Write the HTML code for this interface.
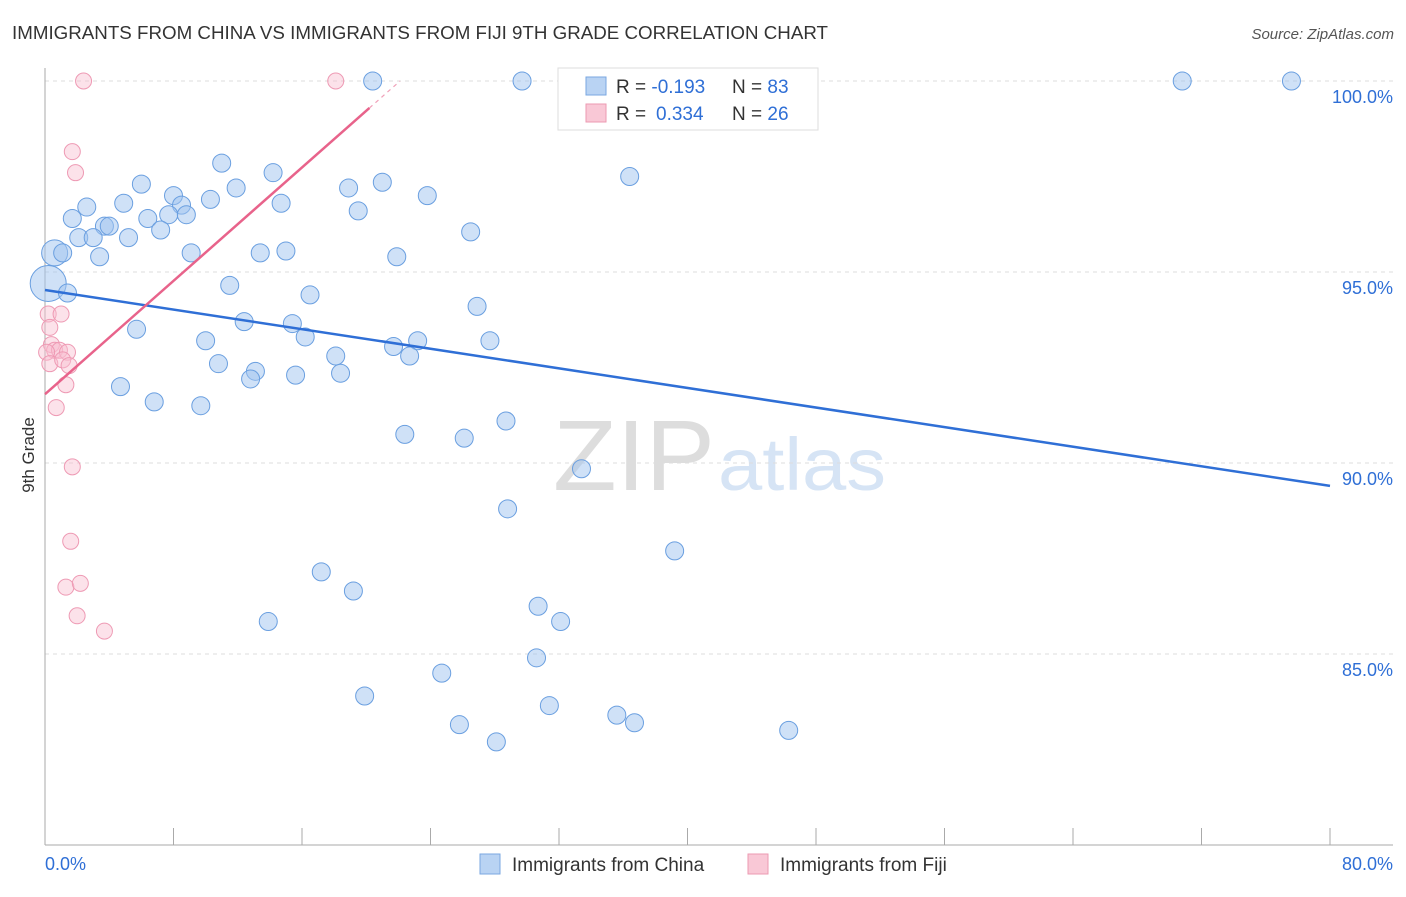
<!DOCTYPE html>
<html><head><meta charset="utf-8"><style>
body{margin:0;background:#fff;font-family:"Liberation Sans",sans-serif}
svg text{font-family:"Liberation Sans",sans-serif}
</style></head><body>
<svg id="c" width="1406" height="892">
<text x="12" y="39" font-size="18" fill="#333" textLength="816" lengthAdjust="spacingAndGlyphs">IMMIGRANTS FROM CHINA VS IMMIGRANTS FROM FIJI 9TH GRADE CORRELATION CHART</text>
<text x="1394" y="39" font-size="15" fill="#555" font-style="italic" text-anchor="end">Source: ZipAtlas.com</text>
<text x="553" y="490" font-size="100" fill="#ddd" font-family="Liberation Serif" textLength="162" lengthAdjust="spacingAndGlyphs">ZIP</text>
<text x="718" y="490" font-size="74" fill="#d6e4f5" textLength="168" lengthAdjust="spacingAndGlyphs">atlas</text>
<text transform="translate(34,455) rotate(-90)" font-size="17" fill="#333" text-anchor="middle">9th Grade</text>
<g id="grid"></g><g id="pts"></g><g id="lines"></g>
<g>
<rect x="558" y="68" width="260" height="62" fill="#fff" stroke="#ddd"/>
<rect x="586" y="77" width="20" height="18" fill="#b9d3f3" stroke="#7aa7e0"/>
<rect x="586" y="104" width="20" height="18" fill="#f9c8d6" stroke="#ec9ab2"/>
<text x="616" y="93" font-size="19" fill="#333">R = <tspan fill="#2f6fd6">-0.193</tspan><tspan x="732">N = </tspan><tspan fill="#2f6fd6">83</tspan></text>
<text x="616" y="120" font-size="19" fill="#333">R = <tspan fill="#2f6fd6" x="656">0.334</tspan><tspan x="732">N = </tspan><tspan fill="#2f6fd6">26</tspan></text>
</g>
<g>
<rect x="480" y="854" width="20" height="20" fill="#b9d3f3" stroke="#7aa7e0"/>
<text x="512" y="871" font-size="19" fill="#333">Immigrants from China</text>
<rect x="748" y="854" width="20" height="20" fill="#f9c8d6" stroke="#ec9ab2"/>
<text x="780" y="871" font-size="19" fill="#333">Immigrants from Fiji</text>
</g>
</svg>
<script>
const yTicks=[100,95,90,85];
const yTickLabels=["100.0%","95.0%","90.0%","85.0%"];
const xTicks=[0,8,16,24,32,40,48,56,64,72,80];
const chinaX=[20.4,29.7,32.9,40.8,70.8,77.6,11.0,14.2,6.0,21.0,36.4,11.9,18.9,23.8,8.0,10.3,4.9,8.5,14.7,2.6,7.7,8.8,19.5,6.4,1.7,3.7,4.0,7.2,5.2,2.1,3.0,26.5,0.6,1.1,3.4,9.1,13.4,15.0,21.9,0.2,1.4,11.5,16.5,26.9,5.7,12.4,15.4,16.2,10.0,23.2,27.7,21.7,18.1,22.7,10.8,13.1,12.8,15.6,18.4,4.7,6.8,9.7,28.7,22.4,26.1,33.4,28.8,39.2,17.2,19.2,30.7,32.1,13.9,30.6,24.7,19.9,31.4,35.6,36.7,25.8,28.1,46.3];
const chinaY=[100,100,100,100,100,100,97.85,97.6,97.3,97.35,97.5,97.2,97.2,97.0,97.0,96.9,96.8,96.75,96.8,96.7,96.5,96.5,96.6,96.4,96.4,96.2,96.2,96.1,95.9,95.9,95.9,96.05,95.5,95.5,95.4,95.5,95.5,95.55,95.4,94.7,94.45,94.65,94.4,94.1,93.5,93.7,93.65,93.3,93.2,93.2,93.2,93.05,92.8,92.8,92.6,92.4,92.2,92.3,92.35,92.0,91.6,91.5,91.1,90.75,90.65,89.85,88.8,87.7,87.15,86.65,86.25,85.85,85.85,84.9,84.5,83.9,83.65,83.4,83.2,83.15,82.7,83.0];
const fijiX=[2.4,18.1,1.7,1.9,0.2,1.0,0.3,0.4,0.6,0.9,1.4,0.1,0.3,1.1,1.5,1.3,0.7,1.7,1.6,1.3,2.2,2.0,3.7];
const fijiY=[100,100,98.15,97.6,93.9,93.9,93.55,93.1,92.95,92.95,92.9,92.9,92.6,92.7,92.55,92.05,91.45,89.9,87.95,86.75,86.85,86.0,85.6];
const chinaTrend=[94.53,89.4];
const fijiTrend=[91.8,0.371];
const X=v=>45+v*1285/80, Y=v=>81+(100-v)*38.2;
const NS="http://www.w3.org/2000/svg";
function mk(t,a,p){const e=document.createElementNS(NS,t);for(const k in a)e.setAttribute(k,a[k]);p.appendChild(e);return e;}
const grid=document.getElementById('grid');
yTicks.forEach((t,i)=>{
 const l=mk('line',{x1:45,x2:1393,y1:Y(t),y2:Y(t),stroke:'#ddd','stroke-dasharray':'4,4'},grid);
 
 
 const tx=mk('text',{x:1393,y:Y(t)+22,'font-size':18,fill:'#2f6fd6','text-anchor':'end'},grid);
 tx.textContent=yTickLabels[i];
 
 
});
const ax=mk('line',{x1:45,x2:45,y1:68,y2:845,stroke:'#aaa'},grid);


const bx=mk('line',{x1:45,x2:1393,y1:845,y2:845,stroke:'#aaa'},grid);


xTicks.forEach(t=>{
 const l=mk('line',{x1:X(t),x2:X(t),y1:828,y2:845,stroke:'#aaa'},grid);
 
 
});
const xl=mk('text',{x:45,y:870,'font-size':18,fill:'#2f6fd6'},grid);xl.textContent='0.0%';


const xr=mk('text',{x:1393,y:870,'font-size':18,fill:'#2f6fd6','text-anchor':'end'},grid);xr.textContent='80.0%';


const pts=document.getElementById('pts');
chinaX.forEach((x,i)=>{
 let r=9; if(i===32) r=13; if(i===39) r=18;
 const c=mk('circle',{cx:X(x),cy:Y(chinaY[i]),r:r,fill:'rgba(160,196,240,0.5)',stroke:'#6a9fe0','stroke-width':1},pts);
 
 
});
fijiX.forEach((x,i)=>{
 const c=mk('circle',{cx:X(x),cy:Y(fijiY[i]),r:8,fill:'rgba(248,190,208,0.45)',stroke:'#ee9ab4','stroke-width':1},pts);
 
 
});
const lines=document.getElementById('lines');
const cl=mk('line',{x1:X(0),y1:Y(chinaTrend[0]),x2:X(80),y2:Y(chinaTrend[1]),stroke:'#2f6fd6','stroke-width':2.5},lines);


const fx=20.2, fxe=(100-fijiTrend[0])/fijiTrend[1];
const fl=mk('line',{x1:X(0),y1:Y(fijiTrend[0]),x2:X(fx),y2:Y(fijiTrend[0]+fijiTrend[1]*fx),stroke:'#e8638b','stroke-width':2.5},lines);


const fd=mk('line',{x1:X(fx),y1:Y(fijiTrend[0]+fijiTrend[1]*fx),x2:X(fxe),y2:Y(100),stroke:'#f0a0b8','stroke-width':1.2,'stroke-dasharray':'4,4'},lines);


</script>
</body></html>
